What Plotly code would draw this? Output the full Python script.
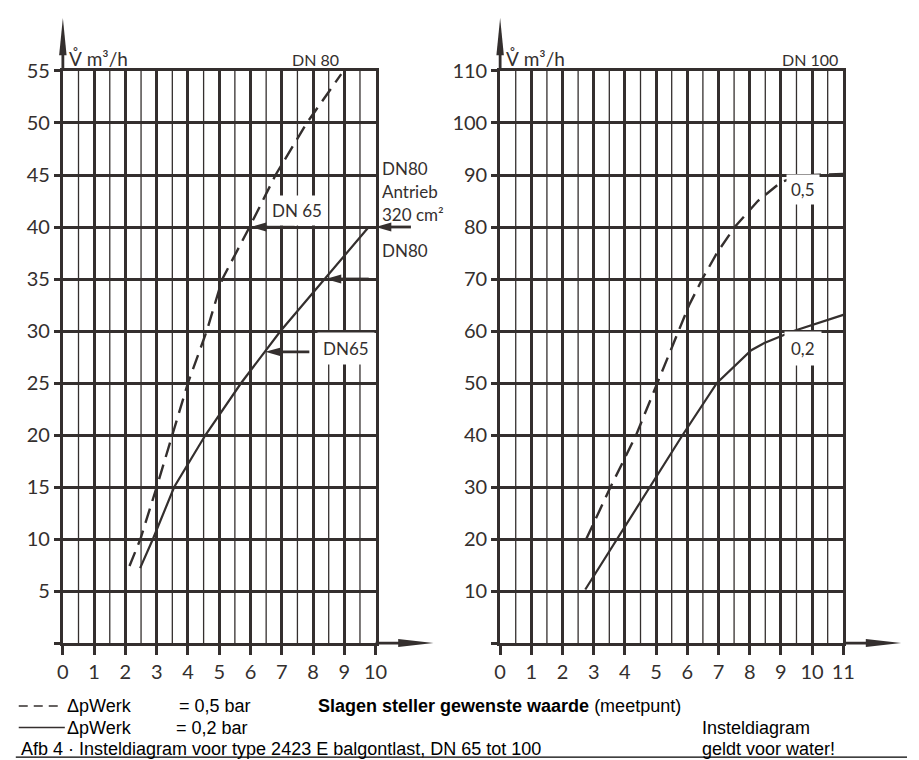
import plotly.graph_objects as go

# ---------------- data ----------------
left_x_ticks = [0, 1, 2, 3, 4, 5, 6, 7, 8, 9, 10]
left_y_ticks = [0, 5, 10, 15, 20, 25, 30, 35, 40, 45, 50, 55]
right_x_ticks = [0, 1, 2, 3, 4, 5, 6, 7, 8, 9, 10, 11]
right_y_ticks = [0, 10, 20, 30, 40, 50, 60, 70, 80, 90, 100, 110]

# DN 80 panel, turns vs flow (m3/h)
dn80_dash_x = [2.13, 2.48, 3.0, 3.49, 4.0, 4.6, 5.1, 5.97, 6.8, 7.8, 8.9]
dn80_dash_y = [7.4, 10, 15, 20, 25, 30, 35, 40, 45, 50, 54.7]
dn80_solid_x = [2.47, 2.88, 3.56, 4.56, 5.7, 6.96, 8.37, 9.78]
dn80_solid_y = [7.2, 10, 15, 20, 25, 30, 35, 40]

# DN 100 panel
dn100_dash_x = [2.76, 3.54, 4.36, 5.05, 5.72, 6.06, 6.48, 6.95, 7.52, 8.26, 9.0, 9.5, 10.0, 11.0]
dn100_dash_y = [20, 30, 40, 50, 60, 65, 70, 75, 80, 85, 88.6, 89.7, 90, 90.2]
dn100_solid_x = [2.73, 3.75, 4.8, 5.85, 6.95, 8.05, 8.47, 9.41, 11.0]
dn100_solid_y = [10.3, 20, 30, 40, 50, 56.3, 57.7, 60, 63.1]

# marker arrows (points on curves)
arrow_dn65_upper = (6.0, 40)
arrow_dn80_antrieb = (10.0, 40)
arrow_dn80 = (8.4, 35)
arrow_dn65 = (6.47, 28)

# ---------------- style ----------------
W, H = 919, 760
C = "#342f2e"
FONT = "Lato"
PANEL_L = dict(x0=58, x1=377, xr=10, y0=641, y1=59, yr=55)
PANEL_R = dict(x0=504, x1=854, xr=11, y0=641, y1=59, yr=110)


def px(p, x, y):
    return (p["x0"] + (p["x1"] - p["x0"]) * x / p["xr"],
            p["y0"] - (p["y0"] - p["y1"]) * y / p["yr"])


def P(xp, yp):
    return xp / W, 1 - yp / H


fig = go.Figure()

line_solid = dict(color=C, width=2.2)
line_dash = dict(color=C, width=2.4, dash="15px,8px")

fig.add_trace(go.Scatter(x=dn80_dash_x, y=dn80_dash_y, mode="lines", line=line_dash,
                         xaxis="x", yaxis="y", showlegend=False, hoverinfo="skip"))
fig.add_trace(go.Scatter(x=dn80_solid_x, y=dn80_solid_y, mode="lines", line=line_solid,
                         xaxis="x", yaxis="y", showlegend=False, hoverinfo="skip"))
fig.add_trace(go.Scatter(x=dn100_dash_x, y=dn100_dash_y, mode="lines", line=line_dash,
                         xaxis="x2", yaxis="y2", showlegend=False, hoverinfo="skip"))
fig.add_trace(go.Scatter(x=dn100_solid_x, y=dn100_solid_y, mode="lines", line=line_solid,
                         xaxis="x2", yaxis="y2", showlegend=False, hoverinfo="skip"))


def xaxis(p, ticks, anchor):
    return dict(
        domain=[p["x0"] / W, p["x1"] / W], range=[0, p["xr"]], anchor=anchor,
        tickmode="array", tickvals=ticks, ticktext=[str(t) for t in ticks],
        showgrid=True, gridcolor=C, gridwidth=2.8,
        showline=True, linecolor=C, linewidth=2.8, mirror=True,
        ticks="outside", ticklen=9, tickwidth=2.8, tickcolor=C,
        tickfont=dict(family=FONT, size=20, color=C), zeroline=False,
        fixedrange=True,
    )


def yaxis(p, ticks, anchor):
    return dict(
        domain=[1 - p["y0"] / H, 1 - p["y1"] / H], range=[0, p["yr"]], anchor=anchor,
        tickmode="array", tickvals=ticks, ticktext=["" if t == 0 else str(t) for t in ticks],
        showgrid=True, gridcolor=C, gridwidth=2.8,
        showline=True, linecolor=C, linewidth=2.8, mirror=True,
        ticks="outside", ticklen=6, tickwidth=2.8, tickcolor=C,
        tickfont=dict(family=FONT, size=20, color=C), zeroline=False,
        fixedrange=True,
    )


shapes = []
annotations = []

# thin half-step vertical grid lines
for (xr, yr, ticks_x, ticks_y) in (("x", "y", left_x_ticks, left_y_ticks),
                                   ("x2", "y2", right_x_ticks, right_y_ticks)):
    for t in ticks_x[:-1]:
        shapes.append(dict(type="line", xref=xr, yref=yr, x0=t + 0.5, x1=t + 0.5,
                           y0=ticks_y[0], y1=ticks_y[-1], layer="below",
                           line=dict(color=C, width=1.3)))

# axis extensions with arrowheads
for p in (PANEL_L, PANEL_R):
    shapes.append(dict(type="line", xref="paper", yref="paper",
                       x0=P(p["x0"], p["y1"])[0], y0=P(p["x0"], p["y1"])[1],
                       x1=P(p["x0"], 30)[0], y1=P(p["x0"], 30)[1],
                       line=dict(color=C, width=2.8)))
    tip = P(p["x0"], 5)
    b1 = P(p["x0"] - 3.8, 43)
    b2 = P(p["x0"] + 3.8, 43)
    shapes.append(dict(type="path", xref="paper", yref="paper",
                       path=f"M{tip[0]},{tip[1]} L{b1[0]},{b1[1]} L{b2[0]},{b2[1]} Z",
                       fillcolor=C, line=dict(width=0)))
    xt = p["x1"] + 59
    shapes.append(dict(type="line", xref="paper", yref="paper",
                       x0=P(p["x1"], p["y0"])[0], y0=P(p["x1"], p["y0"])[1],
                       x1=P(xt - 20, p["y0"])[0], y1=P(xt - 20, p["y0"])[1],
                       line=dict(color=C, width=2.8)))
    tip = P(xt, p["y0"])
    b1 = P(xt - 36, p["y0"] - 4)
    b2 = P(xt - 36, p["y0"] + 4)
    shapes.append(dict(type="path", xref="paper", yref="paper",
                       path=f"M{tip[0]},{tip[1]} L{b1[0]},{b1[1]} L{b2[0]},{b2[1]} Z",
                       fillcolor=C, line=dict(width=0)))


def label_arrow(p, pt, length_px):
    tx, ty = px(p, *pt)
    ex = tx + length_px
    a = P(tx + 13, ty)
    b = P(ex, ty)
    shapes.append(dict(type="line", xref="paper", yref="paper",
                       x0=a[0], y0=a[1], x1=b[0], y1=b[1], line=dict(color=C, width=2.8)))
    t = P(tx, ty)
    b1 = P(tx + 16, ty - 4.5)
    b2 = P(tx + 16, ty + 4.5)
    shapes.append(dict(type="path", xref="paper", yref="paper",
                       path=f"M{t[0]},{t[1]} L{b1[0]},{b1[1]} L{b2[0]},{b2[1]} Z",
                       fillcolor=C, line=dict(width=0)))


def text(xp, yp, s, size=17, anchor="center", bg=None, family=FONT, color=C, pad=0,
         weight=None):
    x, y = P(xp, yp)
    f = dict(family=family, size=size, color=color)
    if weight:
        f["weight"] = weight
    d = dict(xref="paper", yref="paper", x=x, y=y, text=s, showarrow=False,
             xanchor=anchor, yanchor="middle", font=f, borderpad=pad)
    if bg:
        d["bgcolor"] = bg
    annotations.append(d)


text(297, 201, "DN 65", bg="white", pad=4)
text(347, 341, "DN65", bg="white", pad=5)
text(813, 180, "0,5", bg="white", pad=4)
text(813, 341, "0,2", bg="white", pad=6)

label_arrow(PANEL_L, arrow_dn65_upper, 45)
label_arrow(PANEL_L, arrow_dn80_antrieb, 36)
label_arrow(PANEL_L, arrow_dn80, 44)
label_arrow(PANEL_L, arrow_dn65, 45)

text(383, 158, "DN80", anchor="left")
text(383, 182, "Antrieb", anchor="left")
text(383, 205, "320 cm²", anchor="left")
text(383, 242, "DN80", anchor="left")

text(316, 47, "DN 80", size=16)
text(820, 47, "DN 100", size=16)
text(63, 46, "V\u030a m³/h", size=19, anchor="left")
text(509, 46, "V\u030a m³/h", size=19, anchor="left")

# bottom legend / notes
AR = "Liberation Sans"
FS = 18
shapes.append(dict(type="line", xref="paper", yref="paper",
                   x0=P(13, 705)[0], y0=P(13, 705)[1], x1=P(54, 705)[0], y1=P(54, 705)[1],
                   line=dict(color=C, width=1.5, dash="9px,6px")))
shapes.append(dict(type="line", xref="paper", yref="paper",
                   x0=P(13, 727)[0], y0=P(13, 727)[1], x1=P(60, 727)[0], y1=P(60, 727)[1],
                   line=dict(color=C, width=1.5)))
text(61, 705, "ΔpWerk", size=FS, anchor="left", family=AR, color="black")
text(175, 705, "= 0,5 bar", size=FS, anchor="left", family=AR, color="black")
text(61, 727, "ΔpWerk", size=FS, anchor="left", family=AR, color="black")
text(172, 727, "= 0,2 bar", size=FS, anchor="left", family=AR, color="black")
text(317, 705, "<b>Slagen steller gewenste waarde</b> (meetpunt)", size=FS, anchor="left",
     family=AR, color="black")
text(709, 727, "Insteldiagram", size=FS, anchor="left", family=AR, color="black")
text(709, 749, "geldt voor water!", size=FS, anchor="left", family=AR, color="black")
text(14, 749, "Afb 4 · Insteldiagram voor type 2423 E balgontlast, DN 65 tot 100", size=FS,
     anchor="left", family=AR, color="black")
shapes.append(dict(type="line", xref="paper", yref="paper",
                   x0=P(10, 757)[0], y0=P(10, 757)[1], x1=P(919, 757)[0], y1=P(919, 757)[1],
                   line=dict(color="black", width=1.2)))

fig.update_layout(
    width=W, height=H, autosize=False,
    margin=dict(l=0, r=0, t=0, b=0),
    paper_bgcolor="white", plot_bgcolor="white",
    xaxis=xaxis(PANEL_L, left_x_ticks, "y"),
    yaxis=yaxis(PANEL_L, left_y_ticks, "x"),
    xaxis2=xaxis(PANEL_R, right_x_ticks, "y2"),
    yaxis2=yaxis(PANEL_R, right_y_ticks, "x2"),
    shapes=shapes, annotations=annotations, showlegend=False,
)

fig.write_html(
    "out.html", config={"displayModeBar": False, "responsive": False},
    post_script=("document.documentElement.style.margin='0';"
                 "document.body.style.margin='0';"
                 "document.body.style.overflow='hidden';"
                 "document.documentElement.style.overflow='hidden';"),
)
